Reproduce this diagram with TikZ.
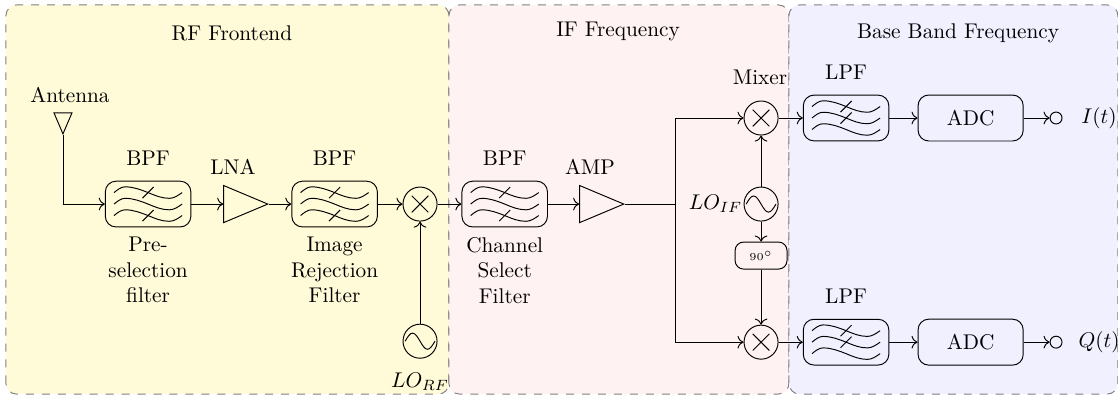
\documentclass[tikz,border=0pt]{standalone}
\usepackage{amsmath,amsfonts,amssymb}
\usepackage{tikz}
\usetikzlibrary{positioning,arrows.meta}
\usetikzlibrary{shapes,shapes.geometric}
\definecolor{rfback}{HTML}{FFFAD8}
\definecolor{ifback}{HTML}{FFF2F2}
\definecolor{bbback}{HTML}{F0F0FF}
\newcommand{\onewave}[1]{
	\draw (-16pt,#1) sin ++(5.2pt,2.7pt) cos ++(10.8pt,-2.7pt) sin ++(10pt,-2.7pt) cos ++(6pt,2.7pt);
}
\tikzstyle{txtnode} = [draw=none, fill=none, text centered, align=center]
\tikzstyle{region} = [draw=gray, dash pattern=on 3.75pt off 3.75pt, rounded corners=5pt]
\tikzstyle{wire} = [draw, ->]
\tikzstyle{line} = [draw]
\tikzstyle{bpf} = [rectangle, draw, rounded corners=5pt, minimum width=40.2pt, minimum height=21.5pt, inner sep=0pt, path picture={
	\begin{scope}[sharp corners, shift={(path picture bounding box.center)}]
		\onewave{5.4pt}
		\onewave{0pt}
		\onewave{-5.4pt}
		\draw (-2.6pt,2.8pt) -- (2.6pt,8pt);
		\draw (-2.6pt,-8pt) -- (2.6pt,-2.8pt);
	\end{scope}}]
\tikzstyle{lpf} = [rectangle, draw, rounded corners=5pt, minimum width=40.2pt, minimum height=21.5pt, inner sep=0pt, path picture={
	\begin{scope}[sharp corners, shift={(path picture bounding box.center)}]
		\onewave{5.4pt}
		\onewave{0pt}
		\onewave{-5.4pt}
		\draw (-2.6pt,2.8pt) -- (2.6pt,8pt);
		\draw (-2.6pt,-2.6pt) -- (2.6pt,2.6pt);
	\end{scope}}]
\tikzstyle{mixer} = [circle, draw, minimum size=16pt, inner sep=0pt, path picture={
	\begin{scope}[shift={(path picture bounding box.center)}]
		\draw (-3.9pt,-3.9pt) -- (3.9pt,3.9pt);
		\draw (-3.9pt,3.9pt) -- (3.9pt,-3.9pt);
	\end{scope}}]
\tikzstyle{osc} = [circle, draw, minimum size=16pt, inner sep=0pt, path picture={
	\begin{scope}[shift={(path picture bounding box.center)}]
		\draw (-7pt,0pt) sin (-3.5pt,3.8pt) cos (0pt,0pt) sin (3.5pt,-3.8pt) cos (7pt,0pt);
	\end{scope}}]
\tikzstyle{amp} = [isosceles triangle, draw, isosceles triangle stretches, inner sep=0pt, minimum width=17.4pt, minimum height=20.7pt]
\tikzstyle{antenna} = [isosceles triangle, shape border rotate=-90, draw, isosceles triangle stretches, inner sep=0pt, minimum width=8.5pt, minimum height=9.9pt]
\tikzstyle{adcbox} = [rectangle, draw, rounded corners=5pt, minimum width=49.4pt, minimum height=21.6pt, text centered]
\tikzstyle{shifter} = [rectangle, draw, rounded corners=4pt, minimum width=24.4pt, minimum height=12.7pt, inner sep=0pt, font=\tiny]
\tikzstyle{port} = [circle, draw, minimum size=5.6pt, inner sep=0pt]

\begin{document}
\begin{tikzpicture}[auto, line width=0.45pt, >={Computer Modern Rightarrow[scale=1.1]}]
	\useasboundingbox (0pt,0pt) rectangle (525.46pt,186.12pt);

	% band backgrounds
	\path [region, fill=rfback] (2.8pt,0.9pt) rectangle (211pt,183.8pt);
	\path [region, fill=ifback] (211pt,0.9pt) rectangle (370.8pt,183.8pt);
	\path [region, fill=bbback] (370.8pt,0.9pt) rectangle (525.4pt,183.8pt);

	% band titles
	\node [txtnode] (T1) at (109pt,170.6pt) {RF Frontend};
	\node [txtnode] (T2) at (290.5pt,171.5pt) {IF Frequency};
	\node [txtnode] (T3) at (450.3pt,170.6pt) {Base Band Frequency};

	% upper chain
	\node [bpf] (F1) at (69.6pt,90.2pt) {};
	\node [amp, right=15pt of F1] (A1) {};
	\node [bpf, right=10.5pt of A1] (F2) {};
	\node [mixer, right=11.6pt of F2] (M1) {};
	\node [osc, below=48pt of M1] (O1) {};
	\node [bpf, right=11.25pt of M1] (F3) {};
	\node [amp, right=14.7pt of F3] (A2) {};
	\coordinate [right=23.7pt of A2] (J1);
	\node [antenna] (AN) at (29.6pt,130.3pt) {};

	% quadrature part
	\node [osc] (O2) at (357.7pt,90.2pt) {};
	\node [mixer, above=24pt of O2] (M2) {};
	\node [shifter, below=9.4pt of O2] (P1) {$90^{\circ}$};
	\node [mixer, below=25.9pt of P1] (M3) {};
	\node [lpf, right=11.4pt of M2] (L1) {};
	\node [lpf, right=11.4pt of M3] (L2) {};
	\node [adcbox, right=13.3pt of L1] (D1) {ADC};
	\node [adcbox, right=13.3pt of L2] (D2) {ADC};
	\node [port, right=12.2pt of D1] (R1) {};
	\node [port, right=12.2pt of D2] (R2) {};

	% labels
	\node [txtnode, above=3.5pt of F1] (B1) {BPF};
	\node [txtnode, above=3.5pt of F2] (B2) {BPF};
	\node [txtnode, above=3.5pt of F3] (B3) {BPF};
	\node [txtnode, below=1pt of F1] (C1) {Pre-\\selection\\filter};
	\node [txtnode, below=1pt of F2] (C2) {Image\\Rejection\\Filter};
	\node [txtnode, below=1pt of F3] (C3) {Channel\\Select\\Filter};
	\node [txtnode] (B4) at (109.5pt,107.5pt) {LNA};
	\node [txtnode] (B5) at (277.3pt,107.5pt) {AMP};
	\node [txtnode] (B6) at (32.9pt,141.4pt) {Antenna};
	\node [txtnode, above=3.5pt of L1] (B7) {LPF};
	\node [txtnode, above=3.5pt of L2] (B8) {LPF};
	\node [txtnode] (B9) at (357.2pt,149.6pt) {Mixer};
	\node [txtnode, below=3pt of O1] (N1) {$LO_{RF}$};
	\node [txtnode, left=-3pt of O2] (N2) {$LO_{IF}$};
	\node [txtnode, right=5.3pt of R1] (N3) {$I(t)$};
	\node [txtnode, right=4pt of R2] (N4) {$Q(t)$};

	% draw edges
	\path [wire] (AN.apex) |- (F1.west);
	\path [wire] (F1.east) -- (A1.west);
	\path [wire] (A1.east) -- (F2.west);
	\path [wire] (F2.east) -- (M1.west);
	\path [wire] (O1.north) -- (M1.south);
	\path [wire] (M1.east) -- (F3.west);
	\path [wire] (F3.east) -- (A2.west);
	\path [line] (A2.east) -- (J1);
	\path [wire] (J1) |- (M2.west);
	\path [wire] (J1) |- (M3.west);
	\path [wire] (O2.north) -- (M2.south);
	\path [wire] (O2.south) -- (P1.north);
	\path [wire] (P1.south) -- (M3.north);
	\path [wire] (M2.east) -- (L1.west);
	\path [wire] (M3.east) -- (L2.west);
	\path [wire] (L1.east) -- (D1.west);
	\path [wire] (L2.east) -- (D2.west);
	\path [wire] (D1.east) -- (R1.west);
	\path [wire] (D2.east) -- (R2.west);
\end{tikzpicture}
\end{document}
